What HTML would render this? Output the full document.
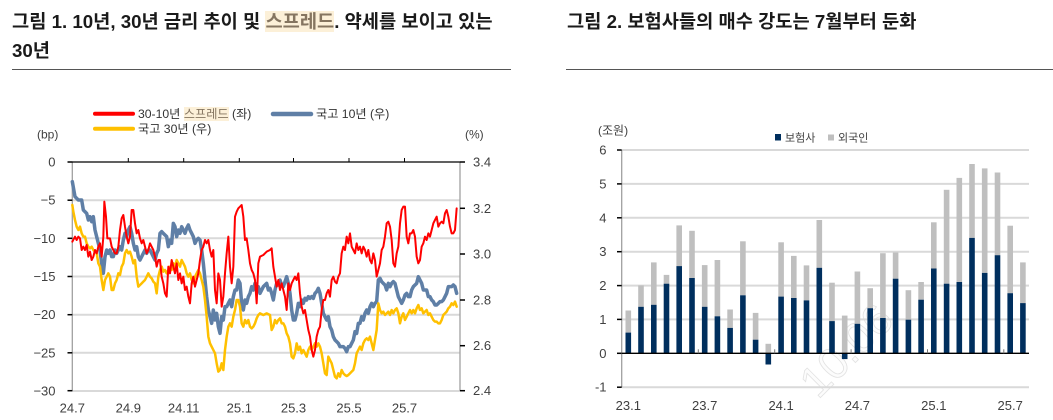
<!DOCTYPE html>
<html><head><meta charset="utf-8"><style>
html,body{margin:0;padding:0;background:#fff;width:1053px;height:420px;overflow:hidden;}
#w{position:relative;width:1053px;height:420px;overflow:hidden;background:#fff;font-family:"Liberation Sans","Noto Sans CJK KR",sans-serif;}
.t{position:absolute;white-space:nowrap;}
.title{font-weight:bold;font-size:18.7px;color:#1a1a1a;line-height:24px;}
.hl{background:#fcf0d8;color:#857560;}
.lg{font-size:12.2px;color:#333;line-height:16px;}
svg{position:absolute;left:0;top:0;overflow:hidden;}
svg text{font-family:"Liberation Sans","Noto Sans CJK KR",sans-serif;fill:#404040;font-size:13px;}
</style></head><body><div id="w">
<svg width="1053" height="420" viewBox="0 0 1053 420">
<!-- dividers -->
<line x1="12" y1="69.5" x2="511" y2="69.5" stroke="#555" stroke-width="1"/>
<line x1="566" y1="69.5" x2="1053" y2="69.5" stroke="#555" stroke-width="1"/>

<!-- LEFT CHART -->
<g stroke="#d9d9d9" stroke-width="2">
<line x1="72" y1="200.2" x2="460" y2="200.2"/>
<line x1="72" y1="238.3" x2="460" y2="238.3"/>
<line x1="72" y1="276.5" x2="460" y2="276.5"/>
<line x1="72" y1="314.7" x2="460" y2="314.7"/>
<line x1="72" y1="352.8" x2="460" y2="352.8"/>
<line x1="72" y1="391" x2="460" y2="391"/>
</g>
<line x1="72.3" y1="162" x2="72.3" y2="391" stroke="#a0a0a0" stroke-width="1.3"/>
<line x1="460" y1="162" x2="460" y2="391" stroke="#a0a0a0" stroke-width="1.3"/>
<g stroke="#000" stroke-width="1.5">
<line x1="67.5" y1="162" x2="72.3" y2="162"/>
<line x1="67.5" y1="200.2" x2="72.3" y2="200.2"/>
<line x1="67.5" y1="238.3" x2="72.3" y2="238.3"/>
<line x1="67.5" y1="276.5" x2="72.3" y2="276.5"/>
<line x1="67.5" y1="314.7" x2="72.3" y2="314.7"/>
<line x1="67.5" y1="352.8" x2="72.3" y2="352.8"/>
<line x1="67.5" y1="390.7" x2="72.3" y2="390.7"/>
<line x1="460" y1="162" x2="465" y2="162"/>
<line x1="460" y1="208.3" x2="465" y2="208.3"/>
<line x1="460" y1="254" x2="465" y2="254"/>
<line x1="460" y1="300" x2="465" y2="300"/>
<line x1="460" y1="345.7" x2="465" y2="345.7"/>
<line x1="460" y1="390.7" x2="465" y2="390.7"/>
</g>
<g stroke="#000" stroke-width="1">
<line x1="128.3" y1="158" x2="128.3" y2="162"/>
<line x1="183.7" y1="158" x2="183.7" y2="162"/>
<line x1="239.3" y1="158" x2="239.3" y2="162"/>
<line x1="293.5" y1="158" x2="293.5" y2="162"/>
<line x1="349" y1="158" x2="349" y2="162"/>
<line x1="404.5" y1="158" x2="404.5" y2="162"/>
</g>

<g transform="translate(0,150) scale(0.33333)" fill="none" stroke-linejoin="round" stroke-linecap="round">
<polyline stroke="#5f7fa6" stroke-width="10.5" points="217,95 225,140 235,150 245,150 250,180 260,190 265,210 270,200 275,215 280,200 285,240 290,260 295,280 300,300 305,340 310,370 315,320 320,300 325,310 330,300 335,320 340,320 345,300 350,310 355,300 360,290 365,300 370,270 375,250 380,260 385,240 390,230 395,250 400,280 405,300 410,290 415,320 420,330 425,320 430,310 435,300 440,310 445,300 450,300 455,310 460,320 465,330 470,310 475,300 480,250 485,245 490,250 495,255 500,260 505,290 510,270 515,280 520,220 525,230 530,260 535,240 540,250 545,230 550,240 555,250 560,235 565,225 570,240 575,250 580,260 585,280 590,270 595,265 600,270 605,300 610,340 615,390 620,440 625,480 630,500 635,520 640,480 645,510 650,490 655,530 660,550 665,500 670,510 675,470 680,470 685,460 690,450 695,470 700,440 705,420 710,420 715,390 720,400 725,460 730,480 735,450 740,460 745,440 750,430 755,410 760,420 765,400 770,410 775,410 780,430 790,410 800,400 805,420 810,415 815,430 820,450 825,420 830,400 835,405 840,390 845,405 850,410 855,395 860,380 865,400 870,430 875,480 880,510 885,510 890,490 895,460 900,470 905,450 910,460 915,445 920,450 925,440 930,445 935,440 940,445 945,430 950,425 955,415 960,430 965,460 970,490 975,500 980,510 985,500 990,530 995,540 1000,560 1005,570 1010,575 1015,580 1020,590 1025,590 1030,590 1035,595 1040,605 1045,590 1050,590 1055,580 1060,570 1065,545 1070,550 1075,520 1080,520 1085,500 1090,510 1095,490 1100,480 1105,490 1110,470 1115,460 1120,470 1125,460 1130,455 1135,390 1140,385 1145,395 1150,400 1155,405 1160,420 1165,400 1170,410 1175,400 1180,395 1185,400 1190,420 1195,440 1200,450 1205,460 1210,450 1215,435 1220,430 1225,440 1230,440 1235,420 1240,410 1245,405 1250,400 1255,380 1260,390 1265,400 1270,420 1275,420 1280,420 1285,440 1290,440 1295,450 1300,455 1305,465 1310,465 1315,460 1320,455 1325,455 1330,450 1335,440 1340,430 1345,410 1350,410 1355,410 1360,405 1365,410 1370,430"/>
<polyline stroke="#ffc000" stroke-width="7.5" points="217,165 220,185 225,210 230,230 235,240 240,230 245,250 250,260 255,260 260,280 265,290 270,295 275,290 280,300 285,305 290,310 295,340 300,350 305,390 310,420 315,390 320,380 325,370 330,380 335,420 340,420 345,400 350,390 355,370 360,375 365,350 370,340 375,310 380,300 385,310 390,305 395,320 400,340 405,330 410,380 415,410 420,405 425,400 430,395 435,390 440,380 445,370 450,380 455,385 460,395 465,400 470,430 475,380 480,360 485,350 490,365 495,360 500,370 505,360 510,350 515,360 520,340 525,350 530,330 535,340 540,350 545,330 550,340 555,350 560,370 565,380 570,370 575,390 580,400 585,380 590,370 595,360 600,370 605,390 610,410 615,450 620,500 625,560 630,580 635,590 640,600 645,610 650,640 655,665 660,660 665,640 670,660 675,600 680,560 685,530 690,520 695,530 700,500 705,480 710,450 715,450 720,470 725,520 730,530 735,510 740,520 745,510 750,530 755,535 760,530 765,520 770,505 775,495 780,490 790,495 800,490 810,495 815,540 820,530 825,510 830,520 835,510 840,505 845,520 850,520 855,530 860,550 865,560 870,580 875,620 880,625 885,610 890,580 895,600 900,590 905,610 910,600 915,610 920,620 925,600 930,590 935,600 940,590 945,580 950,590 955,580 960,590 965,610 970,640 975,670 980,675 985,620 990,630 995,640 1000,660 1005,680 1010,685 1015,670 1020,680 1025,660 1030,670 1035,675 1040,678 1045,675 1050,670 1055,665 1060,660 1065,640 1070,610 1075,600 1080,590 1085,600 1090,580 1095,570 1100,565 1105,570 1110,560 1115,580 1120,600 1125,570 1130,540 1135,460 1140,480 1145,490 1150,485 1155,495 1160,490 1165,485 1170,495 1175,480 1180,490 1185,480 1190,475 1195,490 1200,520 1205,500 1210,490 1215,510 1220,500 1225,490 1230,480 1235,490 1240,480 1245,490 1250,475 1255,465 1260,480 1265,475 1270,490 1275,485 1280,480 1285,495 1290,490 1295,500 1300,510 1305,515 1310,515 1315,520 1320,520 1325,510 1330,495 1335,490 1340,485 1345,475 1350,470 1355,460 1360,465 1365,455 1370,470"/>
<polyline stroke="#ff0000" stroke-width="6" points="217,275 225,260 230,270 235,260 240,265 245,300 250,290 255,300 260,285 265,320 270,305 275,330 280,320 285,300 290,310 295,290 300,280 305,320 310,260 313,155 318,200 322,265 330,265 335,290 340,300 345,310 350,310 355,290 360,240 365,205 370,195 375,230 380,260 385,280 390,260 395,180 400,180 405,220 410,250 415,240 420,265 425,280 430,270 435,290 440,310 445,300 450,280 455,290 460,300 465,320 470,350 475,330 480,330 485,380 490,400 495,430 500,440 505,350 510,370 515,330 520,350 525,370 530,340 535,390 540,370 545,400 550,380 555,420 560,410 565,440 570,460 575,400 580,380 585,410 590,390 595,370 600,330 605,300 610,290 615,270 620,280 625,270 630,300 635,320 640,300 645,420 650,460 655,370 660,390 665,470 670,440 675,370 680,310 685,260 690,350 695,400 700,350 705,200 710,185 715,175 720,170 725,165 730,200 735,270 740,265 745,300 750,340 755,360 760,370 765,390 770,460 775,340 780,320 790,315 800,305 810,300 815,295 820,350 825,380 830,410 835,390 840,420 845,400 850,420 855,440 860,480 865,400 870,420 875,400 880,390 885,380 890,390 895,370 900,430 905,470 910,490 915,480 920,510 925,540 930,560 935,600 940,620 945,600 950,560 955,540 960,530 965,480 970,450 975,450 980,430 985,420 990,440 995,390 1000,380 1005,395 1010,400 1015,380 1020,370 1025,310 1030,290 1035,300 1040,260 1045,280 1050,250 1055,290 1060,300 1065,310 1070,280 1075,300 1080,290 1085,310 1090,290 1095,300 1100,320 1105,300 1110,330 1115,340 1120,310 1125,330 1130,380 1135,360 1140,340 1145,300 1150,290 1155,260 1160,220 1165,215 1170,230 1175,270 1180,340 1185,350 1190,310 1195,290 1200,220 1205,180 1210,170 1215,170 1220,260 1225,280 1230,250 1235,250 1240,240 1245,260 1250,320 1255,340 1260,330 1265,290 1270,280 1275,260 1280,270 1285,250 1290,260 1295,240 1300,220 1305,210 1310,200 1315,230 1320,220 1325,215 1330,220 1335,190 1340,180 1345,200 1350,230 1355,250 1360,250 1365,240 1370,175"/>
</g>
<line x1="72" y1="162" x2="460" y2="162" stroke="#000" stroke-width="1.3"/>

<!-- left labels -->
<g text-anchor="end">
<text x="55.5" y="166.5">0</text>
<text x="55.5" y="204.7">−5</text>
<text x="55.5" y="242.8">−10</text>
<text x="55.5" y="281">−15</text>
<text x="55.5" y="319.2">−20</text>
<text x="55.5" y="357.3">−25</text>
<text x="55.5" y="395.3">−30</text>
</g>
<g>
<text x="473" y="166.5">3.4</text>
<text x="473" y="212.8">3.2</text>
<text x="473" y="258.5">3.0</text>
<text x="473" y="304.5">2.8</text>
<text x="473" y="350.2">2.6</text>
<text x="473" y="395.2">2.4</text>
</g>
<g text-anchor="middle">
<text x="72.3" y="412.5">24.7</text>
<text x="128.3" y="412.5">24.9</text>
<text x="183.7" y="412.5">24.11</text>
<text x="239.3" y="412.5">25.1</text>
<text x="293.5" y="412.5">25.3</text>
<text x="349" y="412.5">25.5</text>
<text x="404.5" y="412.5">25.7</text>
</g>
<text x="37" y="138.5" style="font-size:12px">(bp)</text>
<text x="465" y="138.5" style="font-size:12px">(%)</text>

<!-- legend lines -->
<line x1="95" y1="113.7" x2="133" y2="113.7" stroke="#ff0000" stroke-width="4" stroke-linecap="round"/>
<line x1="273" y1="114" x2="311" y2="114" stroke="#5f7fa6" stroke-width="4.5" stroke-linecap="round"/>
<line x1="95" y1="128.7" x2="133" y2="128.7" stroke="#ffc000" stroke-width="4" stroke-linecap="round"/>

<!-- RIGHT CHART -->
<text x="818" y="400" transform="rotate(-45 818 400)" style="font-size:44px;fill:#fcfcfc;stroke:#e2e2e2;stroke-width:0.8">10.06</text>

<g stroke="#d9d9d9" stroke-width="2">
<line x1="622" y1="150" x2="1029" y2="150"/>
<line x1="622" y1="183.9" x2="1029" y2="183.9"/>
<line x1="622" y1="217.8" x2="1029" y2="217.8"/>
<line x1="622" y1="251.7" x2="1029" y2="251.7"/>
<line x1="622" y1="285.6" x2="1029" y2="285.6"/>
<line x1="622" y1="319.4" x2="1029" y2="319.4"/>
<line x1="622" y1="387.2" x2="1029" y2="387.2"/>
</g>
<line x1="621.7" y1="150" x2="621.7" y2="387.2" stroke="#a0a0a0" stroke-width="1.3"/>
<g stroke="#000" stroke-width="1.5">
<line x1="617" y1="150" x2="621.7" y2="150"/>
<line x1="617" y1="183.9" x2="621.7" y2="183.9"/>
<line x1="617" y1="217.8" x2="621.7" y2="217.8"/>
<line x1="617" y1="251.7" x2="621.7" y2="251.7"/>
<line x1="617" y1="285.6" x2="621.7" y2="285.6"/>
<line x1="617" y1="319.4" x2="621.7" y2="319.4"/>
<line x1="617" y1="353.3" x2="621.7" y2="353.3"/>
<line x1="617" y1="387.2" x2="621.7" y2="387.2"/>
</g>

<g fill="#bfbfbf">
<rect x="625.5" y="310.5" width="5.6" height="22.1"/>
<rect x="638.2" y="285.4" width="5.6" height="21.4"/>
<rect x="651.0" y="262.4" width="5.6" height="42.4"/>
<rect x="663.7" y="274.9" width="5.6" height="8.8"/>
<rect x="676.4" y="225.4" width="5.6" height="40.7"/>
<rect x="689.2" y="230.8" width="5.6" height="47.2"/>
<rect x="701.9" y="265.1" width="5.6" height="41.7"/>
<rect x="714.6" y="260.0" width="5.6" height="56.3"/>
<rect x="727.3" y="309.5" width="5.6" height="18.4"/>
<rect x="740.1" y="241.3" width="5.6" height="54.0"/>
<rect x="752.8" y="312.9" width="5.6" height="26.8"/>
<rect x="765.5" y="343.8" width="5.6" height="9.5"/>
<rect x="778.3" y="242.3" width="5.6" height="54.3"/>
<rect x="791.0" y="255.9" width="5.6" height="42.1"/>
<rect x="803.7" y="265.4" width="5.6" height="35.0"/>
<rect x="816.5" y="220.0" width="5.6" height="47.8"/>
<rect x="829.2" y="282.7" width="5.6" height="38.4"/>
<rect x="841.9" y="315.6" width="5.6" height="37.7"/>
<rect x="854.6" y="271.5" width="5.6" height="52.3"/>
<rect x="867.4" y="288.2" width="5.6" height="20.0"/>
<rect x="880.1" y="253.2" width="5.6" height="64.8"/>
<rect x="892.8" y="252.5" width="5.6" height="26.2"/>
<rect x="905.6" y="290.2" width="5.6" height="29.5"/>
<rect x="918.3" y="282.0" width="5.6" height="17.7"/>
<rect x="931.0" y="222.3" width="5.6" height="46.2"/>
<rect x="943.8" y="189.8" width="5.6" height="93.9"/>
<rect x="956.5" y="177.9" width="5.6" height="104.1"/>
<rect x="969.2" y="164.0" width="5.6" height="73.9"/>
<rect x="981.9" y="168.4" width="5.6" height="104.5"/>
<rect x="994.7" y="172.5" width="5.6" height="82.7"/>
<rect x="1007.4" y="225.7" width="5.6" height="67.5"/>
<rect x="1020.1" y="262.4" width="5.6" height="40.7"/>
</g>
<g fill="#002f5e">
<rect x="625.5" y="332.6" width="5.6" height="20.7"/>
<rect x="638.2" y="306.8" width="5.6" height="46.5"/>
<rect x="651.0" y="304.8" width="5.6" height="48.5"/>
<rect x="663.7" y="283.7" width="5.6" height="69.6"/>
<rect x="676.4" y="266.1" width="5.6" height="87.2"/>
<rect x="689.2" y="278.0" width="5.6" height="75.3"/>
<rect x="701.9" y="306.8" width="5.6" height="46.5"/>
<rect x="714.6" y="316.3" width="5.6" height="37.0"/>
<rect x="727.3" y="327.9" width="5.6" height="25.4"/>
<rect x="740.1" y="295.3" width="5.6" height="58.0"/>
<rect x="752.8" y="339.7" width="5.6" height="13.6"/>
<rect x="765.5" y="353.3" width="5.6" height="11.2"/>
<rect x="778.3" y="296.6" width="5.6" height="56.7"/>
<rect x="791.0" y="298.0" width="5.6" height="55.3"/>
<rect x="803.7" y="300.4" width="5.6" height="52.9"/>
<rect x="816.5" y="267.8" width="5.6" height="85.5"/>
<rect x="829.2" y="321.1" width="5.6" height="32.2"/>
<rect x="841.9" y="353.3" width="5.6" height="5.8"/>
<rect x="854.6" y="323.8" width="5.6" height="29.5"/>
<rect x="867.4" y="308.2" width="5.6" height="45.1"/>
<rect x="880.1" y="318.0" width="5.6" height="35.3"/>
<rect x="892.8" y="278.7" width="5.6" height="74.6"/>
<rect x="905.6" y="319.7" width="5.6" height="33.6"/>
<rect x="918.3" y="299.7" width="5.6" height="53.6"/>
<rect x="931.0" y="268.5" width="5.6" height="84.8"/>
<rect x="943.8" y="283.7" width="5.6" height="69.6"/>
<rect x="956.5" y="282.0" width="5.6" height="71.3"/>
<rect x="969.2" y="237.9" width="5.6" height="115.4"/>
<rect x="981.9" y="272.9" width="5.6" height="80.4"/>
<rect x="994.7" y="255.2" width="5.6" height="98.1"/>
<rect x="1007.4" y="293.2" width="5.6" height="60.1"/>
<rect x="1020.1" y="303.1" width="5.6" height="50.2"/>
</g>
<line x1="622" y1="353.3" x2="1029" y2="353.3" stroke="#000" stroke-width="1.3"/>
<g stroke="#777" stroke-width="1">
<line x1="698.3" y1="349.3" x2="698.3" y2="353.3"/>
<line x1="774.7" y1="349.3" x2="774.7" y2="353.3"/>
<line x1="851.1" y1="349.3" x2="851.1" y2="353.3"/>
<line x1="927.5" y1="349.3" x2="927.5" y2="353.3"/>
<line x1="1003.8" y1="349.3" x2="1003.8" y2="353.3"/>
</g>

<g text-anchor="end">
<text x="606.5" y="154.5">6</text>
<text x="606.5" y="188.4">5</text>
<text x="606.5" y="222.3">4</text>
<text x="606.5" y="256.2">3</text>
<text x="606.5" y="290.1">2</text>
<text x="606.5" y="323.9">1</text>
<text x="606.5" y="357.8">0</text>
<text x="606.5" y="391.7">-1</text>
</g>
<g text-anchor="middle">
<text x="628.3" y="410">23.1</text>
<text x="704.7" y="410">23.7</text>
<text x="781.1" y="410">24.1</text>
<text x="857.4" y="410">24.7</text>
<text x="933.8" y="410">25.1</text>
<text x="1010.2" y="410">25.7</text>
</g>
<text x="598" y="134.5" style="font-size:12px">(조원)</text>
<rect x="775" y="134" width="6" height="6.5" fill="#002f5e"/>
<text x="785" y="141.5" style="font-size:11px">보험사</text>
<rect x="828" y="134.5" width="6" height="6" fill="#bfbfbf"/>
<text x="838" y="141.5" style="font-size:11px">외국인</text>
</svg>

<div class="t title" style="left:12px;top:10px;">그림 1. 10년, 30년 금리 추이 및 <span class="hl">스프레드</span>. 약세를 보이고 있는</div>
<div class="t title" style="left:12px;top:39px;">30년</div>
<div class="t title" style="left:567px;top:10px;">그림 2. 보험사들의 매수 강도는 7월부터 둔화</div>

<div class="t lg" style="left:138px;top:105.5px;">30-10년 <span class="hl">스프레드</span> (좌)</div>
<div class="t lg" style="left:316px;top:106px;">국고 10년 (우)</div>
<div class="t lg" style="left:138px;top:120.5px;">국고 30년 (우)</div>
</div></body></html>
